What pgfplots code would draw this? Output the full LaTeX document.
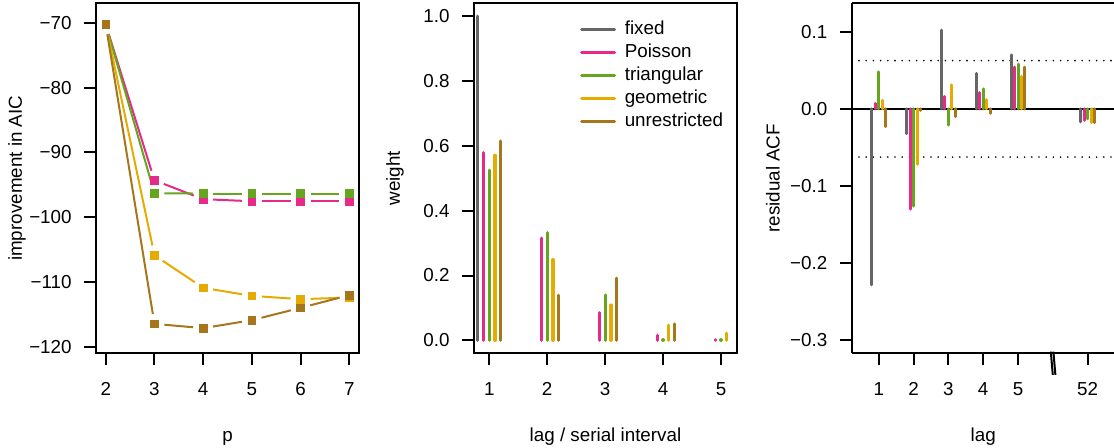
\documentclass[border=0pt]{standalone}
\usepackage{fontspec}
\setmainfont{Liberation Sans}
\usepackage{pgfplots}
\pgfplotsset{compat=1.18}
\definecolor{cfix}{HTML}{666666}
\definecolor{cpoi}{HTML}{E7298A}
\definecolor{ctri}{HTML}{66A61E}
\definecolor{cgeo}{HTML}{E6AB02}
\definecolor{cunr}{HTML}{A6761D}
\newcommand{\fs}{\fontsize{9.4}{11.3}\selectfont}
\newcommand{\seg}[5]{\addplot[#1, line width=1pt, shorten <=5pt, shorten >=5pt, forget plot] coordinates {(#2,#3) (#4,#5)};}
\pgfplotsset{
  mylegend/.style={legend image code/.code={\draw[##1, line cap=round] (0pt,0pt) -- (16.5pt,0pt);}},
  rpanel/.style={
    scale only axis, width=131.5pt, height=175pt, anchor=south west,
    axis line style={line width=1pt},
    every tick/.style={black, line width=1pt},
    tick align=outside, major tick length=5.8pt,
    tick pos=left,
    font=\fs,
    ticklabel style={font=\fs, inner sep=0pt},
    yticklabel style={anchor=east, xshift=-6.2pt},
    xticklabel style={anchor=base, yshift=-15.2pt},
    every axis y label/.style={at={(axis description cs:-0.30,0.5)}, rotate=90, anchor=center, font=\fs},
    every axis x label/.style={at={(axis description cs:0.5,-0.251)}, anchor=base, font=\fs},
  }
}
\begin{document}
\begin{tikzpicture}
\useasboundingbox (0,0) rectangle (557pt,224pt);
% ---------------- panel 1
\begin{axis}[rpanel, at={(48pt,47.35pt)},
  xmin=1.8, xmax=7.2, ymin=-121, ymax=-67,
  xtick={2,3,4,5,6,7}, xticklabels={2,3,4,5,6,7},
  ytick={-120,-110,-100,-90,-80,-70},
  yticklabels={−120,−110,−100,−90,−80,−70},
  xlabel={p}, ylabel={improvement in AIC}]
% Poisson
\seg{cpoi}{2}{-70.26}{3}{-94.31}
\seg{cpoi}{3}{-94.31}{4}{-97.22}
\seg{cpoi}{4}{-97.22}{5}{-97.54}
\seg{cpoi}{5}{-97.54}{6}{-97.54}
\seg{cpoi}{6}{-97.54}{7}{-97.54}
\addplot[only marks, mark=square*, mark size=1.9pt, cpoi] coordinates {(2,-70.26) (3,-94.31) (4,-97.22) (5,-97.54) (6,-97.54) (7,-97.54)};
% triangular
\seg{ctri}{2}{-70.26}{3}{-96.3}
\seg{ctri}{3}{-96.3}{4}{-96.36}
\seg{ctri}{4}{-96.36}{5}{-96.36}
\seg{ctri}{5}{-96.36}{6}{-96.36}
\seg{ctri}{6}{-96.36}{7}{-96.36}
\addplot[only marks, mark=square*, mark size=1.9pt, ctri] coordinates {(2,-70.26) (3,-96.3) (4,-96.36) (5,-96.36) (6,-96.36) (7,-96.36)};
% geometric
\seg{cgeo}{2}{-70.26}{3}{-105.87}
\seg{cgeo}{3}{-105.87}{4}{-110.9}
\seg{cgeo}{4}{-110.9}{5}{-112.14}
\seg{cgeo}{5}{-112.14}{6}{-112.65}
\seg{cgeo}{6}{-112.65}{7}{-112.4}
\addplot[only marks, mark=square*, mark size=1.9pt, cgeo] coordinates {(2,-70.26) (3,-105.87) (4,-110.9) (5,-112.14) (6,-112.65) (7,-112.4)};
% unrestricted
\seg{cunr}{2}{-70.26}{3}{-116.46}
\seg{cunr}{3}{-116.46}{4}{-117.12}
\seg{cunr}{4}{-117.12}{5}{-115.89}
\seg{cunr}{5}{-115.89}{6}{-113.99}
\seg{cunr}{6}{-113.99}{7}{-112.03}
\addplot[only marks, mark=square*, mark size=1.9pt, cunr] coordinates {(2,-70.26) (3,-116.46) (4,-117.12) (5,-115.89) (6,-113.99) (7,-112.03)};
\end{axis}
% ---------------- panel 2
\begin{axis}[rpanel, at={(237pt,47.35pt)},
  xmin=0.736, xmax=5.276, ymin=-0.04, ymax=1.04,
  xtick={1,2,3,4,5}, xticklabels={1,2,3,4,5},
  ytick={0,0.2,0.4,0.6,0.8,1.0}, yticklabels={0.0,0.2,0.4,0.6,0.8,1.0},
  xlabel={lag / serial interval}, ylabel={weight},
  legend cell align=left,
  legend style={at={(axis description cs:0.403,0.951)}, anchor=north west, draw=none, fill=none,
    inner sep=0pt, outer sep=0pt, font=\fs, row sep=2.5pt,
    nodes={inner sep=0pt, text height=7pt, text depth=2pt},
    /tikz/every odd column/.style={column sep=4.3pt}}]
\addplot[ycomb, cfix, line width=1.6pt, line cap=round, forget plot] coordinates {(0.8,1.0)};
\addplot[ycomb, cpoi, line width=1.6pt, line cap=round, forget plot] coordinates {(0.9,0.579) (1.9,0.315) (2.9,0.0855) (3.9,0.0155) (4.9,0.002)};
\addplot[ycomb, ctri, line width=1.6pt, line cap=round, forget plot] coordinates {(1,0.525) (2,0.332) (3,0.140) (4,0.002) (5,0.002)};
\addplot[ycomb, cgeo, line width=1.6pt, line cap=round, forget plot] coordinates {(1.1,0.571) (2.1,0.249) (3.1,0.109) (4.1,0.047) (5.1,0.022)};
\addplot[ycomb, cunr, line width=1.6pt, line cap=round, forget plot] coordinates {(1.2,0.615) (2.2,0.139) (3.2,0.192) (4.2,0.0505)};
\addlegendimage{cfix, line width=1.6pt, mylegend}
\addlegendentry{fixed}
\addlegendimage{cpoi, line width=1.6pt, mylegend}
\addlegendentry{Poisson}
\addlegendimage{ctri, line width=1.6pt, mylegend}
\addlegendentry{triangular}
\addlegendimage{cgeo, line width=1.6pt, mylegend}
\addlegendentry{geometric}
\addlegendimage{cunr, line width=1.6pt, mylegend}
\addlegendentry{unrestricted}
\end{axis}
% ---------------- panel 3
\begin{axis}[rpanel, at={(425.85pt,47.35pt)}, axis lines*=left,
  xmin=0.22, xmax=7.78, ymin=-0.3168, ymax=0.1368,
  xtick={1,2,3,4,5,7}, xticklabels={1,2,3,4,5,52},
  ytick={-0.3,-0.2,-0.1,0,0.1}, yticklabels={−0.3,−0.2,−0.1,0.0,0.1},
  xlabel={lag}, ylabel={residual ACF}, clip=false,
  extra description/.code={\draw[line width=1pt] (axis description cs:0,1) -- (axis description cs:1.02,1);}]
\addplot[black, line width=0.9pt, line cap=round, dash pattern=on 0pt off 3.6pt, forget plot] coordinates {(0.43,0.0625) (7.78,0.0625)};
\addplot[black, line width=0.9pt, line cap=round, dash pattern=on 0pt off 3.6pt, forget plot] coordinates {(0.43,-0.0625) (7.78,-0.0625)};
\addplot[black, line width=1pt, forget plot] coordinates {(0.22,0) (7.85,0)};
\addplot[ycomb, cfix, line width=1.5pt, line cap=round] coordinates {(0.8,-0.228) (1.8,-0.032) (2.8,0.102) (3.8,0.046) (4.8,0.070) (6.8,-0.017)};
\addplot[ycomb, cpoi, line width=1.5pt, line cap=round] coordinates {(0.9,0.007) (1.9,-0.130) (2.9,0.016) (3.9,0.021) (4.9,0.054) (6.9,-0.015)};
\addplot[ycomb, ctri, line width=1.5pt, line cap=round] coordinates {(1,0.048) (2,-0.126) (3,-0.021) (4,0.026) (5,0.058) (7,-0.013)};
\addplot[ycomb, cgeo, line width=1.5pt, line cap=round] coordinates {(1.1,0.011) (2.1,-0.072) (3.1,0.031) (4.1,0.012) (5.1,0.042) (7.1,-0.018)};
\addplot[ycomb, cunr, line width=1.5pt, line cap=round] coordinates {(1.2,-0.023) (2.2,-0.002) (3.2,-0.010) (4.2,-0.006) (5.2,0.054) (7.2,-0.018)};
\draw[line width=1pt] ([xshift=-1pt, yshift=0.8pt]axis cs:6,-0.3168) -- ([xshift=0pt, yshift=-10.8pt]axis cs:6,-0.3168);
\draw[line width=1pt] ([xshift=0.3pt, yshift=0.8pt]axis cs:6,-0.3168) -- ([xshift=1.3pt, yshift=-10.8pt]axis cs:6,-0.3168);
\end{axis}
\end{tikzpicture}
\end{document}
